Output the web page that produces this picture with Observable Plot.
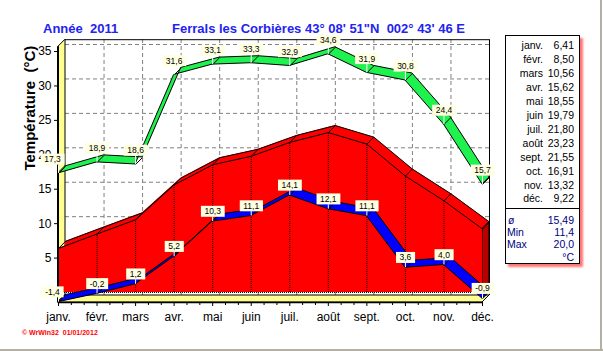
<!DOCTYPE html>
<html><head><meta charset="utf-8">
<script src="https://cdn.jsdelivr.net/npm/d3@7"></script>
<script src="https://cdn.jsdelivr.net/npm/@observablehq/plot@0.6"></script>
<style>
body{margin:0;background:#fff;font-family:Arial,"Liberation Sans",sans-serif;}
#wrap{position:relative;width:603px;height:351px;overflow:hidden;background:#fff;}
#chart{position:absolute;left:0;top:0;}
.abs{position:absolute;white-space:pre;}
.title{font-size:13px;font-weight:bold;color:#2323f0;line-height:15px;top:20.5px;}
#panel{position:absolute;left:505px;top:35px;width:75px;height:229px;box-sizing:border-box;border:1px solid #000;background:#fff;box-shadow:3px 3px 2px rgba(255,60,60,0.7);}
.lg{font-size:10.5px;line-height:14px;color:#000;}
.lgb{font-size:10.5px;line-height:13px;color:#000080;}
#cap{left:22px;top:327.5px;font-size:7px;line-height:9px;font-weight:bold;color:#ff0000;}
</style></head><body>
<div id="wrap"><div id="chart"></div></div>
<script>
// ---- data ----
const months = ["janv.","févr.","mars","avr.","mai","juin","juil.","août","sept.","oct.","nov.","déc."];
const tMax  = [17.3, 18.9, 18.6, 31.6, 33.1, 33.3, 32.9, 34.6, 31.9, 30.8, 24.4, 15.7];
const tMin  = [-1.4, -0.2, 1.2, 5.2, 10.3, 11.1, 14.1, 12.1, 11.1, 3.6, 4.0, -0.9];
const tMean = [6.41, 8.50, 10.56, 15.62, 18.55, 19.79, 21.80, 23.23, 21.55, 16.91, 13.32, 9.22];
const yTicks = [0, 5, 10, 15, 20, 25, 30, 35];
const summaryLabels = ["ø", "Min", "Max"];
const summaryValues = [15.49, 11.4, 20.0];
const unit = "°C";
const title1 = "Année  2011";
const title2 = "Ferrals les Corbières 43° 08' 51\"N  002° 43' 46 E";
const yTitle = "Température  (°C)";
const caption = "© WrWin32  01/01/2012";

// ---- layout ----
const W = 603, H = 351;
const mL = 58, mR = 121, mT = 46.2, mB = 49;
const Y0 = -1.45, Y1 = 35.7;
const KX = (W - mL - mR) / 11;
const KY = (H - mT - mB) / (Y1 - Y0);
const DEPTH = 7;
const DX = DEPTH / KX, DY = DEPTH / KY;

const idx = months.map((m, i) => i);
const rows = months.map((m, i) => ({i, m, max: tMax[i], min: tMin[i], mean: tMean[i]}));
const fmt1 = v => v.toFixed(1).replace(".", ",");
const fmt2 = v => v.toFixed(2).replace(".", ",");

const yellow = "#ffff90", green = "#1ef24e", blue = "#0000ff", red = "#ff0000";
const gridStyle = {stroke: "#808080", strokeDasharray: "4,3", strokeWidth: 1};

function ribbon(key, fill) {
  return [
    Plot.area(rows, {x1: "i", y1: key, x2: d => d.i + DX, y2: d => d[key] + DY, fill, stroke: "black", strokeWidth: 1}),
    Plot.link(rows, {x1: "i", y1: key, x2: d => d.i + DX, y2: d => d[key] + DY, stroke: "black", strokeWidth: 1})
  ];
}
function labels(key, dyPx) {
  return [
    Plot.ruleX(rows, {x: "i", y1: key, y2: d => d[key] + (dyPx - 5.5) / KY, stroke: "white", strokeWidth: 1}),
    Plot.text(rows, {filter: d => d.i > 0, x: "i", y: key, text: d => fmt1(d[key]), dy: -dyPx, fontSize: 8.5, fill: "black"}),
    Plot.text(rows, {filter: d => d.i === 0, x: "i", y: key, text: d => fmt1(d[key]), dy: -dyPx, dx: -6, fontSize: 8.5, fill: "black"})
  ];
}

const svg = Plot.plot({
  width: W, height: H,
  marginLeft: mL, marginRight: mR, marginTop: mT, marginBottom: mB,
  style: {fontFamily: "Arial, 'Liberation Sans', sans-serif", fontSize: "12px", background: "transparent", color: "black"},
  x: {domain: [0, 11], ticks: idx, tickFormat: i => months[i], tickSize: 4, tickPadding: 5.5, label: null},
  y: {domain: [Y0, Y1], ticks: yTicks, tickSize: 4, tickPadding: 3, label: null},
  marks: [
    // back wall grid
    Plot.ruleY(yTicks, {y: d => d + DY, x1: DX, x2: 11 + DX, ...gridStyle}),
    Plot.ruleX(idx.slice(1, 11), {x: d => d + DX, y1: Y0 + DY, y2: Y1 + DY, ...gridStyle}),
    Plot.ruleY([Y1 + DY], {x1: DX, x2: 11 + DX, stroke: "black"}),
    Plot.ruleX([11 + DX], {y1: Y0 + DY, y2: Y1 + DY, stroke: "black"}),
    // left wall and floor
    Plot.area([Y0, Y1], {x1: 0, y1: d => d, x2: DX, y2: d => d + DY, fill: yellow, stroke: "black"}),
    Plot.area([0, 11], {x1: d => d, y1: Y0, x2: d => d + DX, y2: Y0 + DY, fill: yellow, stroke: "black"}),
    // max ribbon
    ...ribbon("max", green),
    // mean 3D area
    Plot.areaY(rows, {x: d => d.i + DX, y1: DY, y2: d => d.mean + DY, fill: red}),
    Plot.area([0, tMean[11]], {x1: 11, y1: d => d, x2: 11 + DX, y2: d => d + DY, fill: "#b80000", stroke: "black"}),
    Plot.areaY(rows, {x: "i", y1: 0, y2: "mean", fill: red}),
    Plot.line(rows, {x: d => d.i + DX, y: d => d.mean + DY, stroke: "black", strokeWidth: 1}),
    Plot.line(rows, {x: "i", y: "mean", stroke: "black", strokeWidth: 1}),
    Plot.link(rows, {x1: "i", y1: "mean", x2: d => d.i + DX, y2: d => d.mean + DY, stroke: "black", strokeWidth: 1}),
    Plot.ruleX(rows.slice(1, 11), {x: "i", y1: 0, y2: "mean", stroke: "black", strokeDasharray: "1,1"}),
    Plot.ruleY([0], {x1: 0, x2: 11, stroke: "black", strokeDasharray: "1,1"}),
    // min ribbon
    ...ribbon("min", blue),
    // front axis lines
    Plot.ruleX([0], {y1: Y0, y2: Y1, stroke: "black", strokeWidth: 2, dx: -0.5}),
    Plot.ruleY([Y0], {x1: 0, x2: 11, stroke: "black", strokeWidth: 1.5}),
    Plot.ruleX(d3.range(1, 33).map(k => k / 3).filter(v => Math.abs(v - Math.round(v)) > 1e-6), {y1: Y0, y2: Y0 - 3 / KY, stroke: "black"}),
    // labels
    ...labels("max", 14),
    ...labels("min", 10),
    Plot.text([yTitle], {frameAnchor: "left", rotate: -90, dx: -28, dy: -4, fontSize: 15, fontWeight: "bold", fill: "black"})
  ]
});
document.getElementById("chart").append(svg);

// label boxes
svg.querySelectorAll('g[font-size="8.5"] text').forEach(t => {
  const b = t.getBBox();
  const r = document.createElementNS("http://www.w3.org/2000/svg", "rect");
  r.setAttribute("x", b.x - 3.5);
  r.setAttribute("y", b.y + b.height / 2 - 5.5);
  r.setAttribute("width", b.width + 7);
  r.setAttribute("height", 11);
  r.setAttribute("fill", "#ffffe1");
  const tr = t.getAttribute("transform");
  if (tr) r.setAttribute("transform", tr);
  t.parentNode.insertBefore(r, t);
});

// HTML text parts
const wrap = document.getElementById("wrap");
function addDiv(cls, text, css) {
  const d = document.createElement("div");
  d.className = "abs " + cls;
  d.textContent = text;
  Object.assign(d.style, css);
  wrap.appendChild(d);
  return d;
}
addDiv("title", title1, {left: "43px"});
addDiv("title", title2, {left: "172px"});
const panel = document.createElement("div");
panel.id = "panel";
wrap.appendChild(panel);
months.forEach((m, i) => {
  const top = (45 + 13.95 * i - 7) + "px";
  addDiv("lg", m, {left: "506px", width: "37px", textAlign: "right", top});
  addDiv("lg", fmt2(tMean[i]), {left: "545px", width: "29px", textAlign: "right", top});
});
const divider = document.createElement("div");
Object.assign(divider.style, {position: "absolute", left: "505px", top: "208px", width: "75px", height: "1px", background: "#000"});
wrap.appendChild(divider);
const sumY = [220, 232, 244.5];
summaryLabels.forEach((s, i) => {
  const top = (sumY[i] - 6.5) + "px";
  addDiv("lgb", s, {left: (i === 0 ? 508 : 507) + "px", top});
  addDiv("lgb", i === 0 ? fmt2(summaryValues[i]) : fmt1(summaryValues[i]), {left: "540px", width: "34px", textAlign: "right", top});
});
addDiv("lgb", unit, {left: "540px", width: "34px", textAlign: "right", top: (257 - 6.5) + "px"});
const cap = addDiv("", caption, {});
cap.id = "cap";
// window frame lines
const fr = document.createElement("div");
Object.assign(fr.style, {position: "absolute", left: "600px", top: "0px", width: "2px", height: "351px", background: "#b4b0a4"});
wrap.appendChild(fr);
const fb = document.createElement("div");
Object.assign(fb.style, {position: "absolute", left: "0px", top: "349px", width: "603px", height: "2px", background: "#b4b0a4"});
wrap.appendChild(fb);
</script>
</body></html>
